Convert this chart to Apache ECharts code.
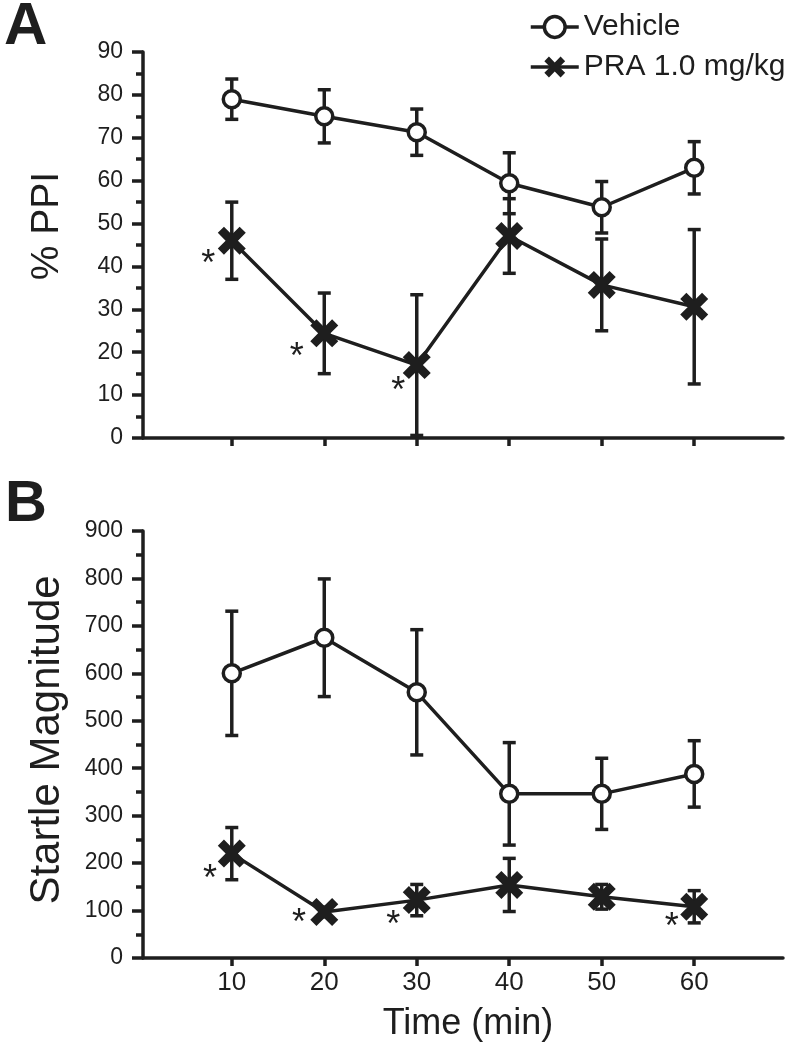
<!DOCTYPE html>
<html><head><meta charset="utf-8">
<script src="https://cdn.jsdelivr.net/npm/echarts@6/dist/echarts.min.js"></script>
<style>html,body{margin:0;padding:0;background:#fff}#c{width:793px;height:1050px}</style>
</head><body><div id="c"></div>
<script>
// ---- data ----
const times = [10, 20, 30, 40, 50, 60];
const xTickValues = [10, 20, 30, 40, 50, 60];
const seriesNames = ['Vehicle', 'PRA 1.0 mg/kg'];

const ppiVehicle    = [79.0, 75.0, 71.3, 59.4, 53.8, 63.0];
const ppiVehicleSem = [4.7, 6.2, 5.4, 7.1, 6.0, 6.1];
const ppiPra        = [46.0, 24.4, 17.0, 47.1, 35.7, 30.6];
const ppiPraSem     = [9.0, 9.4, 16.4, 8.7, 10.7, 18.0];

const stVehicle    = [600, 675, 560, 346, 346, 388];
const stVehicleSem = [131, 124, 132, 108, 75, 70];
const stPra        = [220, 97, 122, 154, 129, 108];
const stPraSem     = [55, 10, 33, 56, 26, 34];

const asteriskA = [[7.46, 41.7], [17.02, 20.0], [28.0, 12.0]];
const asteriskB = [[7.64, 176], [17.27, 85], [27.46, 80], [57.56, 76]];

// ---- style ----
const INK = '#1e1e1e';
const FONT = '"Liberation Sans", Arial, Helvetica, sans-serif';
const XSYM = 'path://M0,2.2 L2.2,0 L5,2.8 L7.8,0 L10,2.2 L7.2,5 L10,7.8 L7.8,10 L5,7.2 L2.2,10 L0,7.8 L2.8,5 Z';
const LW = 3.5;

function pairs(means) { return times.map((t, i) => [t, means[i]]); }
function errData(means, sems) { return times.map((t, i) => [t, means[i] - sems[i], means[i] + sems[i]]); }
function renderErr(params, api) {
  const x = api.value(0), lo = api.value(1), hi = api.value(2);
  const p1 = api.coord([x, lo]), p2 = api.coord([x, hi]);
  const hw = 6.5, st = { stroke: INK, lineWidth: LW };
  return { type: 'group', children: [
    { type: 'line', shape: { x1: p1[0], y1: p1[1], x2: p2[0], y2: p2[1] }, style: st },
    { type: 'line', shape: { x1: p1[0] - hw, y1: p1[1], x2: p1[0] + hw, y2: p1[1] }, style: st },
    { type: 'line', shape: { x1: p2[0] - hw, y1: p2[1], x2: p2[0] + hw, y2: p2[1] }, style: st }
  ]};
}
function renderAst(params, api) {
  const p = api.coord([api.value(0), api.value(1)]);
  return { type: 'text', x: p[0], y: p[1] + 6,
    style: { text: '*', fill: INK, font: '36px ' + FONT, align: 'center', verticalAlign: 'middle' } };
}
function errSeries(idx, means, sems) {
  return { type: 'custom', xAxisIndex: idx, yAxisIndex: idx, renderItem: renderErr,
    data: errData(means, sems), encode: { x: 0, y: [1, 2] }, z: 1, silent: true, clip: false };
}
function vehicleSeries(idx, means) {
  return { name: seriesNames[0], type: 'line', xAxisIndex: idx, yAxisIndex: idx, data: pairs(means),
    symbol: 'circle', symbolSize: 17, showAllSymbol: true,
    itemStyle: { color: '#fff', borderColor: INK, borderWidth: LW },
    lineStyle: { color: INK, width: LW }, z: 3, silent: true };
}
function praSeries(idx, means) {
  return { name: seriesNames[1], type: 'line', xAxisIndex: idx, yAxisIndex: idx, data: pairs(means),
    symbol: XSYM, symbolSize: 28, showAllSymbol: true,
    itemStyle: { color: INK, borderWidth: 0 },
    lineStyle: { color: INK, width: LW }, z: 3, silent: true };
}
function astSeries(idx, pts) {
  return { type: 'custom', xAxisIndex: idx, yAxisIndex: idx, data: pts, renderItem: renderAst,
    encode: { x: 0, y: 1 }, silent: true, z: 5, clip: false };
}
function xAxis(idx, showLabels) {
  return { type: 'value', gridIndex: idx, min: 0.4, max: 69.6,
    axisLine: { show: true, onZero: false, lineStyle: { color: INK, width: LW } },
    axisTick: { show: true, customValues: xTickValues, length: 8, lineStyle: { color: INK, width: LW } },
    axisLabel: { show: showLabels, customValues: xTickValues, fontSize: 26, color: INK, fontFamily: FONT, margin: 12 },
    splitLine: { show: false } };
}
function yAxis(idx, max, interval) {
  return { type: 'value', gridIndex: idx, min: 0, max: max, interval: interval,
    axisLine: { show: true, onZero: false, lineStyle: { color: INK, width: LW } },
    axisTick: { show: true, length: 11, lineStyle: { color: INK, width: LW } },
    minorTick: { show: true, splitNumber: 2, length: 7, lineStyle: { color: INK, width: LW } },
    axisLabel: { fontSize: 23, color: INK, fontFamily: FONT, margin: 20 },
    splitLine: { show: false }, minorSplitLine: { show: false } };
}

const chart = echarts.init(document.getElementById('c'), null, { renderer: 'canvas' });
chart.setOption({
  backgroundColor: '#fff',
  animation: false,
  grid: [
    { left: 143, top: 52, width: 640, height: 386 },
    { left: 143, top: 531, width: 640, height: 427 }
  ],
  xAxis: [xAxis(0, false), xAxis(1, true)],
  yAxis: [yAxis(0, 90, 10), yAxis(1, 900, 100)],
  legend: {
    orient: 'vertical', left: 524, top: 7, itemWidth: 48, itemHeight: 26, itemGap: 10,
    selectedMode: false,
    textStyle: { fontSize: 30, color: INK, fontFamily: FONT, padding: [0, 0, 0, 0] },
    lineStyle: { width: LW },
    data: [
      { name: seriesNames[0], itemStyle: { borderWidth: LW } },
      { name: seriesNames[1] }
    ]
  },
  graphic: [
    { type: 'text', x: 4, y: 27, style: { text: 'A', font: 'bold 60px ' + FONT, fill: INK, align: 'left', verticalAlign: 'middle' } },
    { type: 'text', x: 5, y: 505, style: { text: 'B', font: 'bold 58px ' + FONT, fill: INK, align: 'left', verticalAlign: 'middle' } },
    { type: 'text', x: 47, y: 226, rotation: Math.PI / 2, style: { text: '% PPI', font: '39px ' + FONT, fill: INK, align: 'center', verticalAlign: 'middle' } },
    { type: 'text', x: 47, y: 740, rotation: Math.PI / 2, style: { text: 'Startle Magnitude', font: '42px ' + FONT, fill: INK, align: 'center', verticalAlign: 'middle' } },
    { type: 'text', x: 468, y: 1024, style: { text: 'Time (min)', font: '36px ' + FONT, fill: INK, align: 'center', verticalAlign: 'middle' } }
  ],
  series: [
    errSeries(0, ppiVehicle, ppiVehicleSem),
    errSeries(0, ppiPra, ppiPraSem),
    vehicleSeries(0, ppiVehicle),
    praSeries(0, ppiPra),
    astSeries(0, asteriskA),
    errSeries(1, stVehicle, stVehicleSem),
    errSeries(1, stPra, stPraSem),
    vehicleSeries(1, stVehicle),
    praSeries(1, stPra),
    astSeries(1, asteriskB)
  ]
});
</script>
</body></html>
